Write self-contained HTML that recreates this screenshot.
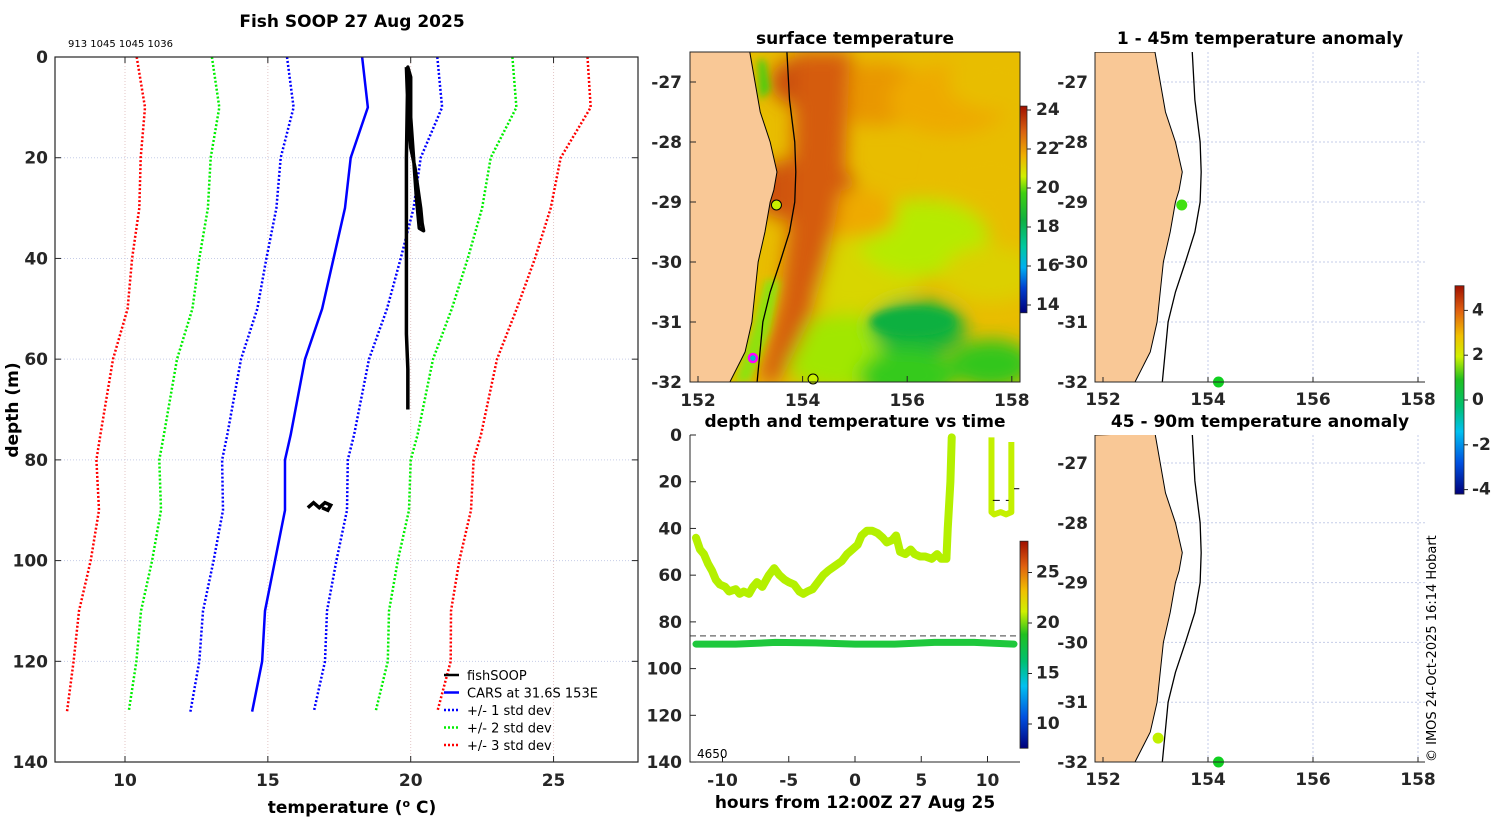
<!DOCTYPE html>
<html><head><meta charset="utf-8">
<style>
html,body{margin:0;padding:0;background:#fff;}
svg{display:block;font-family:"DejaVu Sans","Liberation Sans",sans-serif;}
.tk{font-size:17px;font-weight:bold;fill:#262626;}
.ttl{font-size:17px;font-weight:bold;fill:#000;}
.lg{font-size:13px;fill:#000;}
</style></head>
<body>
<svg id="fig" width="1500" height="820" viewBox="0 0 1500 820" xmlns="http://www.w3.org/2000/svg">
<defs>
<filter id="blur8" x="-50%" y="-50%" width="200%" height="200%"><feGaussianBlur stdDeviation="9"/></filter>
<filter id="blur4" x="-50%" y="-50%" width="200%" height="200%"><feGaussianBlur stdDeviation="4"/></filter>
<clipPath id="clipSst"><rect x="690" y="52" width="330" height="330"/></clipPath>
<clipPath id="clipA1"><rect x="1095" y="52" width="330" height="330"/></clipPath>
<clipPath id="clipA2"><rect x="1095" y="435" width="330" height="327"/></clipPath>
<linearGradient id="cbSst" x1="0" y1="1" x2="0" y2="0">
<stop offset="0" stop-color="#00007a"/><stop offset="0.12" stop-color="#0040d0"/><stop offset="0.22" stop-color="#00b0f0"/><stop offset="0.32" stop-color="#00c8a0"/><stop offset="0.45" stop-color="#10b040"/><stop offset="0.58" stop-color="#40d010"/><stop offset="0.66" stop-color="#d0f000"/><stop offset="0.76" stop-color="#f0b000"/><stop offset="0.88" stop-color="#d86010"/><stop offset="1" stop-color="#a01000"/>
</linearGradient>
<linearGradient id="cbJet" x1="0" y1="1" x2="0" y2="0">
<stop offset="0" stop-color="#00007a"/><stop offset="0.15" stop-color="#0050e0"/><stop offset="0.3" stop-color="#00c0f0"/><stop offset="0.42" stop-color="#00c070"/><stop offset="0.55" stop-color="#20c020"/><stop offset="0.66" stop-color="#d0f000"/><stop offset="0.76" stop-color="#f0c000"/><stop offset="0.88" stop-color="#e06010"/><stop offset="1" stop-color="#a01000"/>
</linearGradient>
</defs>
<g id="profile"></g>
<g id="sst"></g>
<g id="tseries"></g>
<g id="anom1"></g>
<g id="anom2"></g>
<text x="1436" y="762" transform="rotate(-90 1436 762)" font-size="13" fill="#000">© IMOS 24-Oct-2025 16:14 Hobart</text>
</svg>
<script>
const NS="http://www.w3.org/2000/svg";
function mk(parent,tag,attrs,txt){const e=document.createElementNS(NS,tag);for(const k in attrs)e.setAttribute(k,attrs[k]);if(txt!==undefined)e.textContent=txt;parent.appendChild(e);return e;}

// ---------- Profile data ----------
const cDepth=[0,10,20,30,40,50,60,75,80,90,100,110,120,130];
const cMean=[18.3,18.5,17.9,17.7,17.3,16.9,16.3,15.8,15.6,15.6,15.25,14.9,14.8,14.45];
const cStd=[2.63,2.6,2.45,2.4,2.35,2.27,2.24,2.22,2.2,2.17,2.15,2.17,2.2,2.16];
const fsTemp=[19.85,19.9,20.0,20.15,20.25,20.35,20.4,20.45,20.3,20.2,20.1,20.0,20.0,19.9,19.85,19.85,19.85,19.85,19.9,19.9];
const fsDepth=[2,10,18,22,26,30,33,34.5,34,28,20,12,4,2,20,35,45,55,62,70];
const squigT=[16.4,16.6,16.8,16.9,17.0,17.2,17.1,16.9];
const squigD=[89.5,88.5,89.5,89,88.5,89,90,89.5];
const pXt=[10,15,20,25], pYt=[0,20,40,60,80,100,120,140];

const PX=t=>125+(t-10)*28.57, PY=d=>57+d*5.036;
(function(){
 const g=document.getElementById('profile');
 mk(g,'rect',{x:55,y:57,width:583,height:705,fill:'#fff'});
 pXt.forEach(t=>{const l=mk(g,'line',{x1:PX(t),x2:PX(t),y1:57,y2:762,stroke:'#e3c6c6','stroke-dasharray':'1,2','stroke-width':1});});
 pYt.forEach(d=>{const l=mk(g,'line',{x1:55,x2:638,y1:PY(d),y2:PY(d),stroke:'#c6cde8','stroke-dasharray':'1,2','stroke-width':1});});
 const cols={1:'#0000ff',2:'#00ee00',3:'#ff0000'};
 [3,2,1].forEach(k=>{[-1,1].forEach(s=>{
  const pts=cDepth.map((d,i)=>PX(cMean[i]+s*k*cStd[i]).toFixed(1)+','+PY(d).toFixed(1)).join(' ');
  const p=mk(g,'polyline',{points:pts,fill:'none',stroke:cols[k],'stroke-width':2.5,'stroke-dasharray':'2,2'});
  
 });});
 const m=mk(g,'polyline',{points:cDepth.map((d,i)=>PX(cMean[i])+','+PY(d)).join(' '),fill:'none',stroke:'#0000ff','stroke-width':2.5});
 
 const f=mk(g,'polyline',{points:fsDepth.map((d,i)=>PX(fsTemp[i])+','+PY(d)).join(' '),fill:'none',stroke:'#000','stroke-width':3.5,'stroke-linejoin':'round'});
 
 const q=mk(g,'polyline',{points:squigD.map((d,i)=>PX(squigT[i])+','+PY(d)).join(' '),fill:'none',stroke:'#000','stroke-width':3.5});
 
 const b=mk(g,'rect',{x:55,y:57,width:583,height:705,fill:'none',stroke:'#262626','stroke-width':1.2});
 
 pXt.forEach(t=>{mk(g,'line',{x1:PX(t),x2:PX(t),y1:762,y2:756,stroke:'#262626'});mk(g,'line',{x1:PX(t),x2:PX(t),y1:57,y2:63,stroke:'#262626'});
  const tx=mk(g,'text',{x:PX(t),y:786,'text-anchor':'middle',class:'tk'},t);});
 pYt.forEach(d=>{mk(g,'line',{x1:55,x2:61,y1:PY(d),y2:PY(d),stroke:'#262626'});mk(g,'line',{x1:632,x2:638,y1:PY(d),y2:PY(d),stroke:'#262626'});
  const tx=mk(g,'text',{x:48,y:PY(d)+6,'text-anchor':'end',class:'tk'},d);});
 let t=mk(g,'text',{x:352,y:27,'text-anchor':'middle',class:'ttl'},'Fish SOOP 27 Aug 2025');
 t=mk(g,'text',{x:68,y:47,'font-size':'10',fill:'#000'},'913 1045 1045 1036');
 t=mk(g,'text',{x:352,y:813,'text-anchor':'middle',class:'ttl'});
 t.innerHTML='temperature (<tspan dy="-6" font-size="11">o</tspan><tspan dy="6"> C)</tspan>';
 t=mk(g,'text',{x:18,y:410,'text-anchor':'middle',class:'ttl',transform:'rotate(-90 18 410)'},'depth (m)');
 const leg=[['fishSOOP','#000',''],['CARS at 31.6S 153E','#0000ff',''],['+/- 1 std dev','#0000ff','2,2'],['+/- 2 std dev','#00ee00','2,2'],['+/- 3 std dev','#ff0000','2,2']];
 leg.forEach((r,i)=>{const y=675+i*17.5;const e=mk(g,'g',{});
  mk(e,'line',{x1:444,x2:459,y1:y,y2:y,stroke:r[1],'stroke-width':2.5,'stroke-dasharray':r[2]||'none'});
  mk(e,'text',{x:467,y:y+5,class:'lg'},r[0]);});
})();

// ---------- maps common ----------
const coastLon=[152.99,153.09,153.19,153.38,153.51,153.45,153.38,153.28,153.15,153.09,153.03,152.9,152.61];
const coastLat=[-26.5,-27.0,-27.5,-28.0,-28.5,-28.8,-29.0,-29.5,-30.0,-30.5,-31.0,-31.5,-32.0];
const shelfLon=[153.7,153.75,153.85,153.87,153.85,153.75,153.57,153.38,153.24,153.13];
const shelfLat=[-26.5,-27.3,-28.0,-28.5,-29.0,-29.5,-30.0,-30.5,-31.0,-32.0];
const lonTicks=[152,154,156,158], latTicks=[-27,-28,-29,-30,-31,-32];

function drawMap(g,X,Y,x0,y0,w,h,clip){
 const land=[[x0,y0]].concat(coastLon.map((l,i)=>[X(l),Y(coastLat[i])])).concat([[X(coastLon[coastLon.length-1]),y0+h],[x0,y0+h]]);
 const lp=mk(g,'polygon',{points:land.map(p=>p.join(',')).join(' '),fill:'#f9c896',stroke:'#000','stroke-width':1,'clip-path':'url(#'+clip+')'});
 
 const sh=mk(g,'polyline',{points:shelfLon.map((l,i)=>X(l)+','+Y(shelfLat[i])).join(' '),fill:'none',stroke:'#000','stroke-width':1.3,'clip-path':'url(#'+clip+')'});
 
}

// ---------- SST map ----------
const SX=l=>698+(l-152)*52.3, SY=la=>82+(-27-la)*60;
const blobLon=[154.3,154.0,155.4,156.8,157.6,155.0,156.3,157.6,154.8,156.2,157.6,156.0,155.0,157.7];
const blobLat=[-27.0,-28.8,-27.2,-27.3,-28.6,-30.2,-29.6,-30.2,-31.5,-31.1,-31.7,-31.9,-29.2,-27.0];
const blobTemp=[23.0,22.8,21.6,21.3,21.0,20.6,20.1,20.7,20.0,18.6,19.2,19.3,21.3,21.0];
const blobR=[40,45,45,50,45,55,55,40,55,40,35,40,35,40];
const sstCbTicks=[14,16,18,20,22,24];
function sstColor(t){const st=[[13.5,[0,0,122]],[15.5,[0,64,208]],[16.5,[0,176,240]],[17.5,[0,200,160]],[18.5,[16,176,64]],[19.5,[64,208,16]],[20.2,[200,240,0]],[21.2,[240,176,0]],[22.5,[216,96,16]],[24.2,[160,16,0]]];
 if(t<=st[0][0])return 'rgb('+st[0][1]+')';for(let i=1;i<st.length;i++){if(t<=st[i][0]){const a=(t-st[i-1][0])/(st[i][0]-st[i-1][0]);const c=st[i-1][1].map((v,j)=>Math.round(v+a*(st[i][1][j]-v)));return 'rgb('+c+')';}}return 'rgb('+st[st.length-1][1]+')';}
(function(){
 const g=document.getElementById('sst');
 const inner=mk(g,'g',{'clip-path':'url(#clipSst)'});
 const base=mk(inner,'rect',{x:690,y:52,width:330,height:330,fill:sstColor(21.0)});
 const bg=mk(inner,'g',{filter:'url(#blur8)'});
 blobLon.forEach((l,i)=>{const e=mk(bg,'ellipse',{cx:SX(l),cy:SY(blobLat[i]),rx:blobR[i]*1.2,ry:blobR[i]*0.7,fill:sstColor(blobTemp[i])});});
 const strip=mk(bg,'polygon',{points:[[795,52],[850,52],[845,170],[830,250],[810,320],[780,382],[758,382],[780,300],[792,200]].map(p=>p.join(',')).join(' '),fill:sstColor(22.6)});
 
 const gb=mk(inner,'g',{filter:'url(#blur4)'});
 const gr=mk(gb,'ellipse',{cx:SX(156.1),cy:SY(-31.0),rx:42,ry:14,fill:sstColor(18.5)});
 mk(gb,'polygon',{points:'750,382 770,330 780,280 765,280 752,330 735,382',fill:sstColor(19.9)});
 mk(gb,'polygon',{points:'758,60 765,60 770,90 760,100',fill:sstColor(19.5)});
 drawMap(g,SX,SY,690,52,330,330,'clipSst');
 const pts=[[153.5,-29.05,'#c8f000','#000'],[154.2,-31.95,'#c8f000','#000'],[153.05,-31.6,'#00c0c0','#ff00ff']];
 pts.forEach(p=>{const c=mk(g,'circle',{cx:SX(p[0]),cy:SY(p[1]),r:p[3]=='#ff00ff'?4:5,fill:p[2],stroke:p[3],'stroke-width':p[3]=='#ff00ff'?2.5:1});});
 mk(g,'rect',{x:690,y:52,width:330,height:330,fill:'none',stroke:'#262626','stroke-width':1});
 lonTicks.forEach(l=>{mk(g,'line',{x1:SX(l),x2:SX(l),y1:382,y2:376,stroke:'#262626'});const t=mk(g,'text',{x:SX(l),y:406,'text-anchor':'middle',class:'tk'},l);});
 latTicks.forEach(l=>{mk(g,'line',{x1:690,x2:696,y1:SY(l),y2:SY(l),stroke:'#262626'});const t=mk(g,'text',{x:682,y:SY(l)+6,'text-anchor':'end',class:'tk'},l);});
 let t=mk(g,'text',{x:855,y:44,'text-anchor':'middle',class:'ttl'},'surface temperature');
 const CY=v=>110+(24-v)*19.5;
 const cb=mk(g,'rect',{x:1020,y:CY(24.2),width:7,height:CY(13.6)-CY(24.2),fill:'url(#cbSst)',stroke:'#262626','stroke-width':0.8});
 sstCbTicks.forEach(v=>{mk(g,'line',{x1:1027,x2:1031,y1:CY(v),y2:CY(v),stroke:'#262626'});const tx=mk(g,'text',{x:1036,y:CY(v)+5,class:'tk','font-size':'14'},v);});
})();

// ---------- time series ----------
const shT=[-12,-11.7,-11.4,-11.1,-10.8,-10.5,-10.2,-9.8,-9.5,-9,-8.7,-8.4,-8,-7.7,-7.4,-7,-6.5,-6.1,-5.7,-5.3,-5,-4.6,-4.2,-3.9,-3.6,-3.2,-2.8,-2.4,-2,-1.5,-1,-0.6,-0.2,0.2,0.5,0.9,1.3,1.7,2.1,2.4,2.8,3.1,3.4,3.8,4.2,4.5,4.9,5.3,5.8,6.2,6.5,6.9,7.0,7.2,7.3];
const shD=[44,49,51,55,58,62,64,65,67,66,68,67,68,65,63,65,60,57,60,62,63,64,67,68,67,66,63,60,58,56,54,51,49,47,43,41,41,42,44,46,45,43,50,51,49,51,52,52,53,51,53,53,40,20,1];
const sh2T=[10.3,10.3,10.5,11,11.4,11.8,11.8];
const sh2D=[1,33,34,33,34,33,3];
const dpT=[-12,-9,-6,-3,0,3,6,9,12];
const dpD=[89.5,89.5,88.8,89,89.5,89.5,88.8,88.8,89.5];
const seabedDepth=86;
const tXt=[-10,-5,0,5,10], tYt=[0,20,40,60,80,100,120,140], tCbTicks=[10,15,20,25];
const TX=h=>855+h*13.25, TY=d=>435+d*2.336;
(function(){
 const g=document.getElementById('tseries');
 let p=mk(g,'polyline',{points:shT.map((t,i)=>TX(t)+','+TY(shD[i])).join(' '),fill:'none',stroke:'#b4f000','stroke-width':8,'stroke-linejoin':'round','stroke-linecap':'round'});
 p=mk(g,'polyline',{points:sh2T.map((t,i)=>TX(t)+','+TY(sh2D[i])).join(' '),fill:'none',stroke:'#c4f000','stroke-width':6,'stroke-linejoin':'round'});
 p=mk(g,'polyline',{points:dpT.map((t,i)=>TX(t)+','+TY(dpD[i])).join(' '),fill:'none',stroke:'#1ec83c','stroke-width':7,'stroke-linecap':'round'});
 p=mk(g,'line',{x1:690,x2:1020,y1:TY(seabedDepth),y2:TY(seabedDepth),stroke:'#666','stroke-dasharray':'6,4','stroke-width':1.3});
 mk(g,'line',{x1:TX(10.4),x2:TX(11.6),y1:TY(28),y2:TY(28),stroke:'#000','stroke-dasharray':'7,6'});
 mk(g,'line',{x1:TX(12),x2:TX(12.4),y1:TY(23),y2:TY(23),stroke:'#000'});
 mk(g,'polyline',{points:'690,435 690,762 1020,762',fill:'none',stroke:'#262626','stroke-width':1});
 tXt.forEach(h=>{mk(g,'line',{x1:TX(h),x2:TX(h),y1:762,y2:756,stroke:'#262626'});const t=mk(g,'text',{x:TX(h),y:786,'text-anchor':'middle',class:'tk'},h);});
 tYt.forEach(d=>{mk(g,'line',{x1:690,x2:696,y1:TY(d),y2:TY(d),stroke:'#262626'});const t=mk(g,'text',{x:682,y:TY(d)+6,'text-anchor':'end',class:'tk'},d);});
 let t=mk(g,'text',{x:855,y:427,'text-anchor':'middle',class:'ttl'},'depth and temperature vs time');
 t=mk(g,'text',{x:855,y:808,'text-anchor':'middle',class:'ttl'},'hours from 12:00Z 27 Aug 25');
 t=mk(g,'text',{x:697,y:758,'font-size':'12',fill:'#000'},'4650');
 const CY=v=>623-(v-20)*10.1;
 const cb=mk(g,'rect',{x:1020,y:CY(28.1),width:8,height:CY(7.6)-CY(28.1),fill:'url(#cbJet)',stroke:'#262626','stroke-width':0.8});
 tCbTicks.forEach(v=>{mk(g,'line',{x1:1028,x2:1032,y1:CY(v),y2:CY(v),stroke:'#262626'});const tx=mk(g,'text',{x:1036,y:CY(v)+5,class:'tk','font-size':'14'},v);});
})();

// ---------- anomaly maps ----------
const a1Lon=[153.5,154.2], a1Lat=[-29.05,-32.0], a1Val=[0.6,0.4];
const a2Lon=[153.05,154.2], a2Lat=[-31.6,-32.0], a2Val=[1.5,0.4];
const anomCbTicks=[-4,-2,0,2,4];
function anomColor(v){return v>1.2?'#c0f000':(v>0.5?'#40e010':'#10d020');}
function anomMap(id,y0,h,yLat27,clip,title,lons,lats,vals){
 const g=document.getElementById(id);
 const AX=l=>1103+(l-152)*52.5, AY=la=>yLat27+(-27-la)*(h===330?60:59.8);
 lonTicks.forEach(l=>{const gl=mk(g,'line',{x1:AX(l),x2:AX(l),y1:y0,y2:y0+h,stroke:'#c6cde8','stroke-dasharray':'2,2'});});
 latTicks.forEach(l=>{const gl=mk(g,'line',{x1:1095,x2:1425,y1:AY(l),y2:AY(l),stroke:'#c6cde8','stroke-dasharray':'2,2'});});
 drawMap(g,AX,AY,1095,y0,330,h,clip);
 lons.forEach((l,i)=>{const c=mk(g,'circle',{cx:AX(l),cy:AY(lats[i]),r:5.5,fill:anomColor(vals[i])});});
 mk(g,'polyline',{points:'1095,'+y0+' 1095,'+(y0+h)+' 1425,'+(y0+h),fill:'none',stroke:'#262626','stroke-width':1});
 lonTicks.forEach(l=>{mk(g,'line',{x1:AX(l),x2:AX(l),y1:y0+h,y2:y0+h-5,stroke:'#262626'});const t=mk(g,'text',{x:AX(l),y:y0+h+23,'text-anchor':'middle',class:'tk'},l);});
 latTicks.forEach(l=>{const t=mk(g,'text',{x:1088,y:AY(l)+6,'text-anchor':'end',class:'tk'},l);});
 const t=mk(g,'text',{x:1260,y:y0-8,'text-anchor':'middle',class:'ttl'},title);
}
anomMap('anom1',52,330,82,'clipA1','1 - 45m temperature anomaly',a1Lon,a1Lat,a1Val);
anomMap('anom2',435,327,463,'clipA2','45 - 90m temperature anomaly',a2Lon,a2Lat,a2Val);
(function(){
 const g=document.getElementById('anom1');
 const CY=v=>400-v*22.4;
 const cb=mk(g,'rect',{x:1455,y:CY(5.1),width:9,height:CY(-4.2)-CY(5.1),fill:'url(#cbJet)',stroke:'#262626','stroke-width':0.8});
 anomCbTicks.forEach(v=>{mk(g,'line',{x1:1464,x2:1468,y1:CY(v),y2:CY(v),stroke:'#262626'});const tx=mk(g,'text',{x:1472,y:CY(v)+5,class:'tk','font-size':'14'},v);});
})();
</script>
</body></html>
